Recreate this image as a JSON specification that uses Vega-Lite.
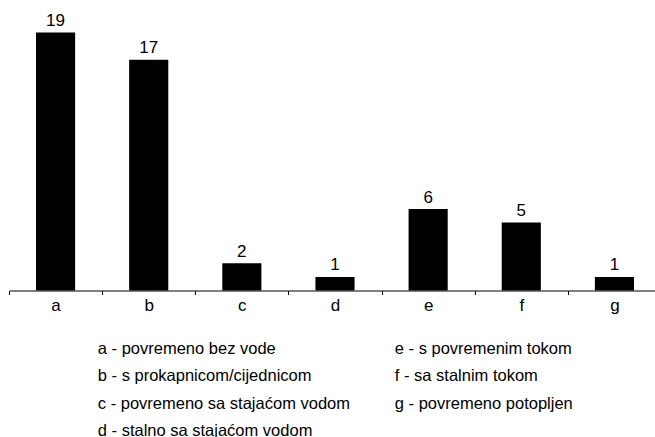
{
  "$schema": "https://vega.github.io/schema/vega-lite/v6.json",
  "autosize": {"type": "none"},
  "padding": {"left": 9, "top": 32.5, "right": 0, "bottom": 146.5},
  "width": 646,
  "height": 258,
  "background": "white",
  "config": {
    "view": {"stroke": null},
    "font": "Liberation Sans"
  },
  "data": {
    "values": [
      {"cat": "a", "value": 19, "desc": "a - povremeno bez vode"},
      {"cat": "b", "value": 17, "desc": "b - s prokapnicom/cijednicom"},
      {"cat": "c", "value": 2, "desc": "c - povremeno sa stajaćom vodom"},
      {"cat": "d", "value": 1, "desc": "d - stalno sa stajaćom vodom"},
      {"cat": "e", "value": 6, "desc": "e - s povremenim tokom"},
      {"cat": "f", "value": 5, "desc": "f - sa stalnim tokom"},
      {"cat": "g", "value": 1, "desc": "g - povremeno potopljen"}
    ]
  },
  "encoding": {
    "x": {
      "field": "cat",
      "type": "nominal",
      "sort": null,
      "scale": {"type": "band", "paddingInner": 0, "paddingOuter": 0, "range": [0, 652]},
      "axis": {
        "title": null,
        "tickBand": "extent",
        "labelAngle": 0,
        "labelFontSize": 17,
        "labelFont": "Liberation Sans",
        "labelColor": "black",
        "labelPadding": 3,
        "tickSize": 4,
        "tickColor": "black",
        "domainColor": "black",
        "domainWidth": 1,
        "grid": false
      }
    },
    "y": {
      "field": "value",
      "type": "quantitative",
      "scale": {"domain": [0, 19], "nice": false},
      "axis": null
    }
  },
  "layer": [
    {
      "mark": {"type": "bar", "width": {"band": 0.42}},
      "encoding": {
        "color": {
          "field": "desc",
          "type": "nominal",
          "scale": {
            "domain": [
              "a - povremeno bez vode",
              "b - s prokapnicom/cijednicom",
              "c - povremeno sa stajaćom vodom",
              "d - stalno sa stajaćom vodom",
              "e - s povremenim tokom",
              "f - sa stalnim tokom",
              "g - povremeno potopljen"
            ],
            "range": ["black"]
          },
          "legend": {
            "title": null,
            "orient": "none",
            "legendX": 72.3,
            "legendY": 307.7,
            "direction": "vertical",
            "columns": 2,
            "columnPadding": 28,
            "rowPadding": 10.6,
            "padding": 0,
            "symbolSize": 0,
            "symbolStrokeWidth": 0,
            "symbolOpacity": 0,
            "labelOffset": 0,
            "labelFontSize": 16.5,
            "labelFont": "Liberation Sans",
            "labelColor": "black",
            "labelLimit": 400
          }
        }
      }
    },
    {
      "mark": {"type": "text", "baseline": "alphabetic", "dy": -6.5, "fontSize": 17, "font": "Liberation Sans", "color": "black"},
      "encoding": {
        "text": {"field": "value", "type": "quantitative"}
      }
    }
  ]
}
